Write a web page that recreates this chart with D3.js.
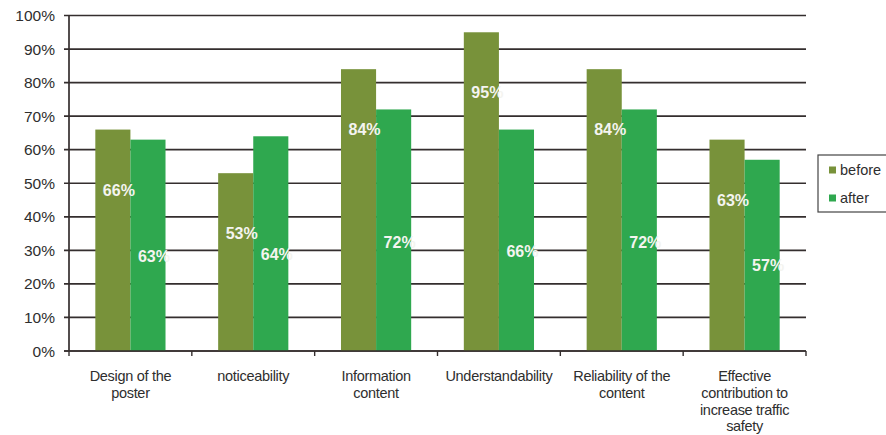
<!DOCTYPE html>
<html>
<head>
<meta charset="utf-8">
<script src="https://cdn.jsdelivr.net/npm/d3@7"></script>
<style>
  html, body { margin: 0; padding: 0; background: #fff; }
  svg { display: block; }
  text { font-family: "Liberation Sans", Arial, sans-serif; }
</style>
</head>
<body>
<svg id="chart" width="886" height="435"></svg>
<script>
// Survey ratings of the poster, before and after
const categories = [
  ["Design of the", "poster"],
  ["noticeability"],
  ["Information", "content"],
  ["Understandability"],
  ["Reliability of the", "content"],
  ["Effective", "contribution to", "increase traffic", "safety"]
];
const seriesNames = ["before", "after"];
const beforeValues = [66, 53, 84, 95, 84, 63];
const afterValues  = [63, 64, 72, 66, 72, 57];
const yTicks = [0, 10, 20, 30, 40, 50, 60, 70, 80, 90, 100];

const colors = { before: "#78923a", after: "#2fa84f" };
const gridColor = "#342e2e";

const svg = d3.select("#chart");
const plot = { left: 69, right: 806, top: 15.5, bottom: 351 };

const x = d3.scaleBand()
  .domain(d3.range(categories.length))
  .range([plot.left, plot.right])
  .paddingInner(0).paddingOuter(0);

// two bars per category, gap of 1.5 bar widths between groups
const groupW = x.bandwidth() * (2 / 3.5);
const xs = d3.scaleBand().domain(seriesNames).range([0, groupW]).padding(0);

const y = d3.scaleLinear().domain([0, 100]).range([plot.bottom, plot.top]);

// horizontal gridlines with short outer ticks
svg.append("g")
  .selectAll("line")
  .data(yTicks)
  .join("line")
  .attr("x1", plot.left - 5)
  .attr("x2", plot.right)
  .attr("y1", d => y(d))
  .attr("y2", d => y(d))
  .attr("stroke", gridColor)
  .attr("stroke-width", 1.7);

// y tick labels
svg.append("g")
  .selectAll("text")
  .data(yTicks)
  .join("text")
  .attr("x", 55)
  .attr("y", d => y(d))
  .attr("dy", "0.36em")
  .attr("text-anchor", "end")
  .attr("font-size", 15.5)
  .attr("fill", "#2e2e2e")
  .text(d => d + "%");

// bars
const rows = categories.map((c, i) => ({ i, before: beforeValues[i], after: afterValues[i] }));
const groups = svg.append("g")
  .selectAll("g")
  .data(rows)
  .join("g")
  .attr("transform", d => `translate(${x(d.i) + (x.bandwidth() - groupW) / 2},0)`);

groups.selectAll("rect")
  .data(d => seriesNames.map(k => ({ key: k, value: d[k] })))
  .join("rect")
  .attr("x", d => xs(d.key))
  .attr("width", xs.bandwidth())
  .attr("y", d => y(d.value))
  .attr("height", d => y(0) - y(d.value))
  .attr("fill", d => colors[d.key]);

// value labels inside the bars
groups.selectAll("text")
  .data(d => seriesNames.map(k => ({ key: k, value: d[k] })))
  .join("text")
  .attr("x", d => xs(d.key) + xs.bandwidth() / 2 + 6)
  .attr("y", d => d.key === "before" ? y(d.value - 18) : y(d.value * 0.45))
  .attr("dy", "0.36em")
  .attr("text-anchor", "middle")
  .attr("font-size", 16)
  .attr("font-weight", "bold")
  .attr("fill", "#f4f4f0")
  .text(d => d.value + "%");

// axes lines
svg.append("line")
  .attr("x1", plot.left).attr("x2", plot.left)
  .attr("y1", y(100)).attr("y2", y(0))
  .attr("stroke", gridColor).attr("stroke-width", 1.7);
svg.append("line")
  .attr("x1", plot.left - 5).attr("x2", plot.right)
  .attr("y1", y(0)).attr("y2", y(0))
  .attr("stroke", gridColor).attr("stroke-width", 1.7);

// category boundary ticks
svg.append("g")
  .selectAll("line")
  .data(d3.range(categories.length + 1))
  .join("line")
  .attr("x1", d => plot.left + d * x.bandwidth())
  .attr("x2", d => plot.left + d * x.bandwidth())
  .attr("y1", y(0))
  .attr("y2", y(0) + 5)
  .attr("stroke", gridColor)
  .attr("stroke-width", 1.4);

// category labels
svg.append("g")
  .selectAll("text")
  .data(categories)
  .join("text")
  .attr("x", (d, i) => x(i) + x.bandwidth() / 2)
  .attr("y", 381)
  .attr("text-anchor", "middle")
  .attr("font-size", 14.5)
  .attr("letter-spacing", "-0.3")
  .attr("fill", "#2e2e2e")
  .selectAll("tspan")
  .data(d => d)
  .join("tspan")
  .attr("x", function () { return this.parentNode.getAttribute("x"); })
  .attr("dy", (d, j) => j === 0 ? 0 : 16.8)
  .text(d => d);

// legend
const legend = svg.append("g").attr("transform", "translate(818,155)");
legend.append("rect")
  .attr("width", 90).attr("height", 57)
  .attr("fill", "#fff")
  .attr("stroke", "#444").attr("stroke-width", 1.2);
seriesNames.forEach((k, i) => {
  const row = legend.append("g").attr("transform", `translate(11,${15 + i * 28})`);
  row.append("rect").attr("x", 0).attr("y", -3.5).attr("width", 7).attr("height", 7).attr("fill", colors[k]);
  row.append("text").attr("x", 11).attr("dy", "0.36em")
    .attr("font-size", 14.5).attr("fill", "#2e2e2e").text(k);
});
</script>
</body>
</html>
